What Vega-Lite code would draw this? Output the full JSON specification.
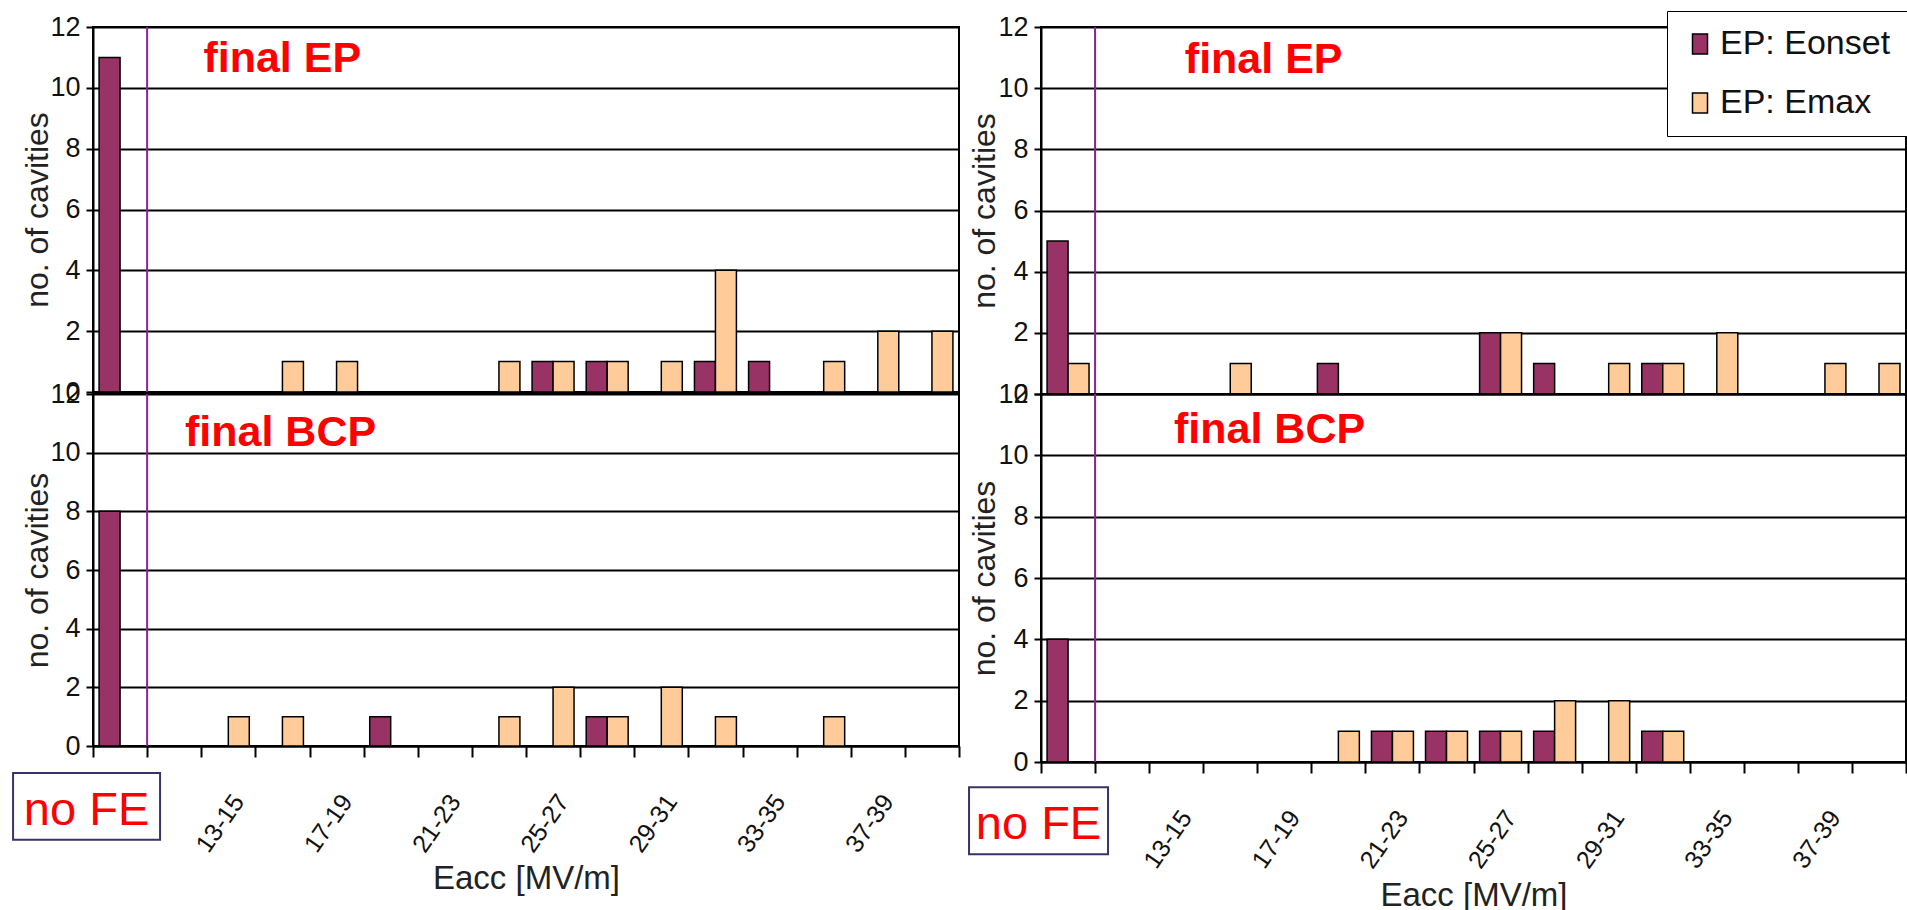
{
  "$schema": "https://vega.github.io/schema/vega-lite/v6.json",
  "padding": {"left": 11, "top": 9, "right": 0, "bottom": 0},
  "background": "white",
  "config": {
    "font": "Liberation Sans",
    "view": {"stroke": "#000", "strokeWidth": 2},
    "axisY": {"grid": true, "gridColor": "#000", "gridWidth": 2, "gridOpacity": 1, "domainColor": "#000", "domainWidth": 2, "tickColor": "#000", "tickWidth": 2, "tickSize": 7, "labelPadding": 6, "labelFont": "Liberation Sans", "labelFontSize": 27, "labelColor": "#111", "titleFont": "Liberation Sans", "titleFontSize": 32, "titleFontWeight": "normal", "titleColor": "#222", "titleBaseline": "alphabetic"},
    "axisX": {"grid": false, "tickBand": "extent", "tickSize": 11, "tickColor": "#000", "tickWidth": 2, "domainColor": "#000", "domainWidth": 2, "labelAngle": -55, "labelAlign": "right", "labelBaseline": "top", "labelPadding": 33, "labelFont": "Liberation Sans", "labelFontSize": 25, "labelColor": "#111", "labelOverlap": false, "titleFont": "Liberation Sans", "titleFontSize": 33, "titleFontWeight": "normal", "titleColor": "#222", "titleBaseline": "top"}
  },
  "datasets": {
    "bars": [
      {"panel": "LT", "cat": "no FE", "series": "EP: Eonset", "n": 11},
      {"panel": "LT", "cat": "15-17", "series": "EP: Emax", "n": 1},
      {"panel": "LT", "cat": "17-19", "series": "EP: Emax", "n": 1},
      {"panel": "LT", "cat": "23-25", "series": "EP: Emax", "n": 1},
      {"panel": "LT", "cat": "25-27", "series": "EP: Eonset", "n": 1},
      {"panel": "LT", "cat": "25-27", "series": "EP: Emax", "n": 1},
      {"panel": "LT", "cat": "27-29", "series": "EP: Eonset", "n": 1},
      {"panel": "LT", "cat": "27-29", "series": "EP: Emax", "n": 1},
      {"panel": "LT", "cat": "29-31", "series": "EP: Emax", "n": 1},
      {"panel": "LT", "cat": "31-33", "series": "EP: Eonset", "n": 1},
      {"panel": "LT", "cat": "31-33", "series": "EP: Emax", "n": 4},
      {"panel": "LT", "cat": "33-35", "series": "EP: Eonset", "n": 1},
      {"panel": "LT", "cat": "35-37", "series": "EP: Emax", "n": 1},
      {"panel": "LT", "cat": "37-39", "series": "EP: Emax", "n": 2},
      {"panel": "LT", "cat": "39-41", "series": "EP: Emax", "n": 2},
      {"panel": "LB", "cat": "no FE", "series": "EP: Eonset", "n": 8},
      {"panel": "LB", "cat": "13-15", "series": "EP: Emax", "n": 1},
      {"panel": "LB", "cat": "15-17", "series": "EP: Emax", "n": 1},
      {"panel": "LB", "cat": "19-21", "series": "EP: Eonset", "n": 1},
      {"panel": "LB", "cat": "23-25", "series": "EP: Emax", "n": 1},
      {"panel": "LB", "cat": "25-27", "series": "EP: Emax", "n": 2},
      {"panel": "LB", "cat": "27-29", "series": "EP: Eonset", "n": 1},
      {"panel": "LB", "cat": "27-29", "series": "EP: Emax", "n": 1},
      {"panel": "LB", "cat": "29-31", "series": "EP: Emax", "n": 2},
      {"panel": "LB", "cat": "31-33", "series": "EP: Emax", "n": 1},
      {"panel": "LB", "cat": "35-37", "series": "EP: Emax", "n": 1},
      {"panel": "RT", "cat": "no FE", "series": "EP: Eonset", "n": 5},
      {"panel": "RT", "cat": "no FE", "series": "EP: Emax", "n": 1},
      {"panel": "RT", "cat": "15-17", "series": "EP: Emax", "n": 1},
      {"panel": "RT", "cat": "19-21", "series": "EP: Eonset", "n": 1},
      {"panel": "RT", "cat": "25-27", "series": "EP: Eonset", "n": 2},
      {"panel": "RT", "cat": "25-27", "series": "EP: Emax", "n": 2},
      {"panel": "RT", "cat": "27-29", "series": "EP: Eonset", "n": 1},
      {"panel": "RT", "cat": "29-31", "series": "EP: Emax", "n": 1},
      {"panel": "RT", "cat": "31-33", "series": "EP: Eonset", "n": 1},
      {"panel": "RT", "cat": "31-33", "series": "EP: Emax", "n": 1},
      {"panel": "RT", "cat": "33-35", "series": "EP: Emax", "n": 2},
      {"panel": "RT", "cat": "37-39", "series": "EP: Emax", "n": 1},
      {"panel": "RT", "cat": "39-41", "series": "EP: Emax", "n": 1},
      {"panel": "RB", "cat": "no FE", "series": "EP: Eonset", "n": 4},
      {"panel": "RB", "cat": "19-21", "series": "EP: Emax", "n": 1},
      {"panel": "RB", "cat": "21-23", "series": "EP: Eonset", "n": 1},
      {"panel": "RB", "cat": "21-23", "series": "EP: Emax", "n": 1},
      {"panel": "RB", "cat": "23-25", "series": "EP: Eonset", "n": 1},
      {"panel": "RB", "cat": "23-25", "series": "EP: Emax", "n": 1},
      {"panel": "RB", "cat": "25-27", "series": "EP: Eonset", "n": 1},
      {"panel": "RB", "cat": "25-27", "series": "EP: Emax", "n": 1},
      {"panel": "RB", "cat": "27-29", "series": "EP: Eonset", "n": 1},
      {"panel": "RB", "cat": "27-29", "series": "EP: Emax", "n": 2},
      {"panel": "RB", "cat": "29-31", "series": "EP: Emax", "n": 2},
      {"panel": "RB", "cat": "31-33", "series": "EP: Eonset", "n": 1},
      {"panel": "RB", "cat": "31-33", "series": "EP: Emax", "n": 1}
    ]
  },
  "columns": 2,
  "align": "none",
  "bounds": "flush",
  "spacing": {"row": 0, "column": 82},
  "resolve": {"legend": {"color": "independent"}},
  "concat": [
    {
      "width": 866, "height": 365,
      "layer": [
        {
          "data": {"name": "bars"},
          "transform": [{"filter": "datum.panel === 'LT'"}],
          "mark": {"type": "bar", "stroke": "#000", "strokeWidth": 1.5},
          "encoding": {
            "x": {"field": "cat", "type": "nominal", "scale": {"domain": ["no FE","11-13","13-15","15-17","17-19","19-21","21-23","23-25","25-27","27-29","29-31","31-33","33-35","35-37","37-39","39-41"], "paddingInner": 0, "paddingOuter": 0}, "axis": null},
            "xOffset": {"field": "series", "type": "nominal", "scale": {"domain": ["EP: Eonset","EP: Emax"], "paddingInner": 0, "paddingOuter": 0.29}},
            "y": {"field": "n", "type": "quantitative", "scale": {"domain": [0, 12], "nice": false}, "axis": {"values": [0,2,4,6,8,10,12], "title": "no. of cavities", "titleX": -46}},
            "color": {"field": "series", "type": "nominal", "scale": {"domain": ["EP: Eonset","EP: Emax"], "range": ["#993366","#ffcc99"]}, "legend": null}
          }
        },
        {
          "data": {"values": [{"cat": "11-13"}]},
          "mark": {"type": "rule", "color": "#8e1f9e", "strokeWidth": 2},
          "encoding": {"x": {"field": "cat", "type": "nominal", "bandPosition": 0, "scale": {"domain": ["no FE","11-13","13-15","15-17","17-19","19-21","21-23","23-25","25-27","27-29","29-31","31-33","33-35","35-37","37-39","39-41"], "paddingInner": 0, "paddingOuter": 0}, "axis": null}}
        },
        {
          "data": {"values": [{"cat": "13-15", "y": 10.52, "label": "final EP"}]},
          "mark": {"type": "text", "align": "left", "baseline": "alphabetic", "font": "Liberation Sans", "fontWeight": "bold", "fontSize": 43, "color": "#ff0000"},
          "encoding": {
            "x": {"field": "cat", "type": "nominal", "bandPosition": 0.04, "scale": {"domain": ["no FE","11-13","13-15","15-17","17-19","19-21","21-23","23-25","25-27","27-29","29-31","31-33","33-35","35-37","37-39","39-41"], "paddingInner": 0, "paddingOuter": 0}, "axis": null},
            "y": {"field": "y", "type": "quantitative", "scale": {"domain": [0, 12], "nice": false}},
            "text": {"field": "label"}
          }
        }
      ]
    },
    {
      "width": 865, "height": 367,
      "layer": [
        {
          "data": {"name": "bars"},
          "transform": [{"filter": "datum.panel === 'RT'"}],
          "mark": {"type": "bar", "stroke": "#000", "strokeWidth": 1.5},
          "encoding": {
            "x": {"field": "cat", "type": "nominal", "scale": {"domain": ["no FE","11-13","13-15","15-17","17-19","19-21","21-23","23-25","25-27","27-29","29-31","31-33","33-35","35-37","37-39","39-41"], "paddingInner": 0, "paddingOuter": 0}, "axis": null},
            "xOffset": {"field": "series", "type": "nominal", "scale": {"domain": ["EP: Eonset","EP: Emax"], "paddingInner": 0, "paddingOuter": 0.29}},
            "y": {"field": "n", "type": "quantitative", "scale": {"domain": [0, 12], "nice": false}, "axis": {"values": [0,2,4,6,8,10,12], "title": "no. of cavities", "titleX": -47}},
            "color": {"field": "series", "type": "nominal", "scale": {"domain": ["EP: Eonset","EP: Emax"], "range": ["#993366","#ffcc99"]},
              "legend": {"title": null, "orient": "none", "legendX": 626, "legendY": -16, "direction": "vertical", "fillColor": "#fff", "strokeColor": "#000", "padding": 16, "labelFont": "Liberation Sans", "labelFontSize": 34, "labelColor": "#111", "labelLimit": 400, "labelOffset": 3, "symbolType": "M-0.75,-1H0.75V1H-0.75Z", "symbolSize": 400, "symbolStrokeColor": "#000", "symbolStrokeWidth": 1.5, "symbolOpacity": 1, "rowPadding": 25}}
          }
        },
        {
          "data": {"values": [{"cat": "11-13"}]},
          "mark": {"type": "rule", "color": "#8e1f9e", "strokeWidth": 2},
          "encoding": {"x": {"field": "cat", "type": "nominal", "bandPosition": 0, "scale": {"domain": ["no FE","11-13","13-15","15-17","17-19","19-21","21-23","23-25","25-27","27-29","29-31","31-33","33-35","35-37","37-39","39-41"], "paddingInner": 0, "paddingOuter": 0}, "axis": null}}
        },
        {
          "data": {"values": [{"cat": "13-15", "y": 10.5, "label": "final EP"}]},
          "mark": {"type": "text", "align": "left", "baseline": "alphabetic", "font": "Liberation Sans", "fontWeight": "bold", "fontSize": 43, "color": "#ff0000"},
          "encoding": {
            "x": {"field": "cat", "type": "nominal", "bandPosition": 0.66, "scale": {"domain": ["no FE","11-13","13-15","15-17","17-19","19-21","21-23","23-25","25-27","27-29","29-31","31-33","33-35","35-37","37-39","39-41"], "paddingInner": 0, "paddingOuter": 0}, "axis": null},
            "y": {"field": "y", "type": "quantitative", "scale": {"domain": [0, 12], "nice": false}},
            "text": {"field": "label"}
          }
        }
      ]
    },
    {
      "width": 866, "height": 352,
      "layer": [
        {
          "data": {"name": "bars"},
          "transform": [{"filter": "datum.panel === 'LB'"}],
          "mark": {"type": "bar", "stroke": "#000", "strokeWidth": 1.5},
          "encoding": {
            "x": {"field": "cat", "type": "nominal", "scale": {"domain": ["no FE","11-13","13-15","15-17","17-19","19-21","21-23","23-25","25-27","27-29","29-31","31-33","33-35","35-37","37-39","39-41"], "paddingInner": 0, "paddingOuter": 0},
              "axis": {"title": "Eacc [MV/m]", "titleY": 116, "labelExpr": "indexof(['13-15','17-19','21-23','25-27','29-31','33-35','37-39'], datum.value) >= 0 ? datum.value : ''"}},
            "xOffset": {"field": "series", "type": "nominal", "scale": {"domain": ["EP: Eonset","EP: Emax"], "paddingInner": 0, "paddingOuter": 0.29}},
            "y": {"field": "n", "type": "quantitative", "scale": {"domain": [0, 12], "nice": false}, "axis": {"values": [0,2,4,6,8,10,12], "title": "no. of cavities", "titleX": -46}},
            "color": {"field": "series", "type": "nominal", "scale": {"domain": ["EP: Eonset","EP: Emax"], "range": ["#993366","#ffcc99"]}, "legend": null}
          }
        },
        {
          "data": {"values": [{"cat": "11-13"}]},
          "mark": {"type": "rule", "color": "#8e1f9e", "strokeWidth": 2},
          "encoding": {"x": {"field": "cat", "type": "nominal", "bandPosition": 0, "scale": {"domain": ["no FE","11-13","13-15","15-17","17-19","19-21","21-23","23-25","25-27","27-29","29-31","31-33","33-35","35-37","37-39","39-41"], "paddingInner": 0, "paddingOuter": 0}}}
        },
        {
          "data": {"values": [{"cat": "11-13", "y": 10.23, "label": "final BCP"}]},
          "mark": {"type": "text", "align": "left", "baseline": "alphabetic", "font": "Liberation Sans", "fontWeight": "bold", "fontSize": 43, "color": "#ff0000"},
          "encoding": {
            "x": {"field": "cat", "type": "nominal", "bandPosition": 0.7, "scale": {"domain": ["no FE","11-13","13-15","15-17","17-19","19-21","21-23","23-25","25-27","27-29","29-31","31-33","33-35","35-37","37-39","39-41"], "paddingInner": 0, "paddingOuter": 0}},
            "y": {"field": "y", "type": "quantitative", "scale": {"domain": [0, 12], "nice": false}},
            "text": {"field": "label"}
          }
        },
        {
          "data": {"values": [{"cat": "no FE", "y": -0.92, "y2": -3.2}]},
          "mark": {"type": "rect", "width": 147, "xOffset": -33.5, "fill": "#fff", "stroke": "#3b3366", "strokeWidth": 2},
          "encoding": {
            "x": {"field": "cat", "type": "nominal", "scale": {"domain": ["no FE","11-13","13-15","15-17","17-19","19-21","21-23","23-25","25-27","27-29","29-31","31-33","33-35","35-37","37-39","39-41"], "paddingInner": 0, "paddingOuter": 0}},
            "y": {"field": "y", "type": "quantitative", "scale": {"domain": [0, 12], "nice": false}},
            "y2": {"field": "y2"}
          }
        },
        {
          "data": {"values": [{"cat": "no FE", "y": -2.69, "label": "no FE"}]},
          "mark": {"type": "text", "align": "center", "baseline": "alphabetic", "dx": -33.5, "font": "Liberation Sans", "fontSize": 47, "color": "#ff0000"},
          "encoding": {
            "x": {"field": "cat", "type": "nominal", "scale": {"domain": ["no FE","11-13","13-15","15-17","17-19","19-21","21-23","23-25","25-27","27-29","29-31","31-33","33-35","35-37","37-39","39-41"], "paddingInner": 0, "paddingOuter": 0}},
            "y": {"field": "y", "type": "quantitative", "scale": {"domain": [0, 12], "nice": false}},
            "text": {"field": "label"}
          }
        }
      ]
    },
    {
      "width": 865, "height": 368,
      "layer": [
        {
          "data": {"name": "bars"},
          "transform": [{"filter": "datum.panel === 'RB'"}],
          "mark": {"type": "bar", "stroke": "#000", "strokeWidth": 1.5},
          "encoding": {
            "x": {"field": "cat", "type": "nominal", "scale": {"domain": ["no FE","11-13","13-15","15-17","17-19","19-21","21-23","23-25","25-27","27-29","29-31","31-33","33-35","35-37","37-39","39-41"], "paddingInner": 0, "paddingOuter": 0},
              "axis": {"title": "Eacc [MV/m]", "titleY": 117, "labelExpr": "indexof(['13-15','17-19','21-23','25-27','29-31','33-35','37-39'], datum.value) >= 0 ? datum.value : ''"}},
            "xOffset": {"field": "series", "type": "nominal", "scale": {"domain": ["EP: Eonset","EP: Emax"], "paddingInner": 0, "paddingOuter": 0.29}},
            "y": {"field": "n", "type": "quantitative", "scale": {"domain": [0, 12], "nice": false}, "axis": {"values": [0,2,4,6,8,10,12], "title": "no. of cavities", "titleX": -47}},
            "color": {"field": "series", "type": "nominal", "scale": {"domain": ["EP: Eonset","EP: Emax"], "range": ["#993366","#ffcc99"]}, "legend": null}
          }
        },
        {
          "data": {"values": [{"cat": "11-13"}]},
          "mark": {"type": "rule", "color": "#8e1f9e", "strokeWidth": 2},
          "encoding": {"x": {"field": "cat", "type": "nominal", "bandPosition": 0, "scale": {"domain": ["no FE","11-13","13-15","15-17","17-19","19-21","21-23","23-25","25-27","27-29","29-31","31-33","33-35","35-37","37-39","39-41"], "paddingInner": 0, "paddingOuter": 0}}}
        },
        {
          "data": {"values": [{"cat": "13-15", "y": 10.4, "label": "final BCP"}]},
          "mark": {"type": "text", "align": "left", "baseline": "alphabetic", "font": "Liberation Sans", "fontWeight": "bold", "fontSize": 43, "color": "#ff0000"},
          "encoding": {
            "x": {"field": "cat", "type": "nominal", "bandPosition": 0.46, "scale": {"domain": ["no FE","11-13","13-15","15-17","17-19","19-21","21-23","23-25","25-27","27-29","29-31","31-33","33-35","35-37","37-39","39-41"], "paddingInner": 0, "paddingOuter": 0}},
            "y": {"field": "y", "type": "quantitative", "scale": {"domain": [0, 12], "nice": false}},
            "text": {"field": "label"}
          }
        },
        {
          "data": {"values": [{"cat": "no FE", "y": -0.82, "y2": -3.01}]},
          "mark": {"type": "rect", "width": 139, "xOffset": -29.5, "fill": "#fff", "stroke": "#3b3366", "strokeWidth": 2},
          "encoding": {
            "x": {"field": "cat", "type": "nominal", "scale": {"domain": ["no FE","11-13","13-15","15-17","17-19","19-21","21-23","23-25","25-27","27-29","29-31","31-33","33-35","35-37","37-39","39-41"], "paddingInner": 0, "paddingOuter": 0}},
            "y": {"field": "y", "type": "quantitative", "scale": {"domain": [0, 12], "nice": false}},
            "y2": {"field": "y2"}
          }
        },
        {
          "data": {"values": [{"cat": "no FE", "y": -2.52, "label": "no FE"}]},
          "mark": {"type": "text", "align": "center", "baseline": "alphabetic", "dx": -29.5, "font": "Liberation Sans", "fontSize": 47, "color": "#ff0000"},
          "encoding": {
            "x": {"field": "cat", "type": "nominal", "scale": {"domain": ["no FE","11-13","13-15","15-17","17-19","19-21","21-23","23-25","25-27","27-29","29-31","31-33","33-35","35-37","37-39","39-41"], "paddingInner": 0, "paddingOuter": 0}},
            "y": {"field": "y", "type": "quantitative", "scale": {"domain": [0, 12], "nice": false}},
            "text": {"field": "label"}
          }
        }
      ]
    }
  ]
}
